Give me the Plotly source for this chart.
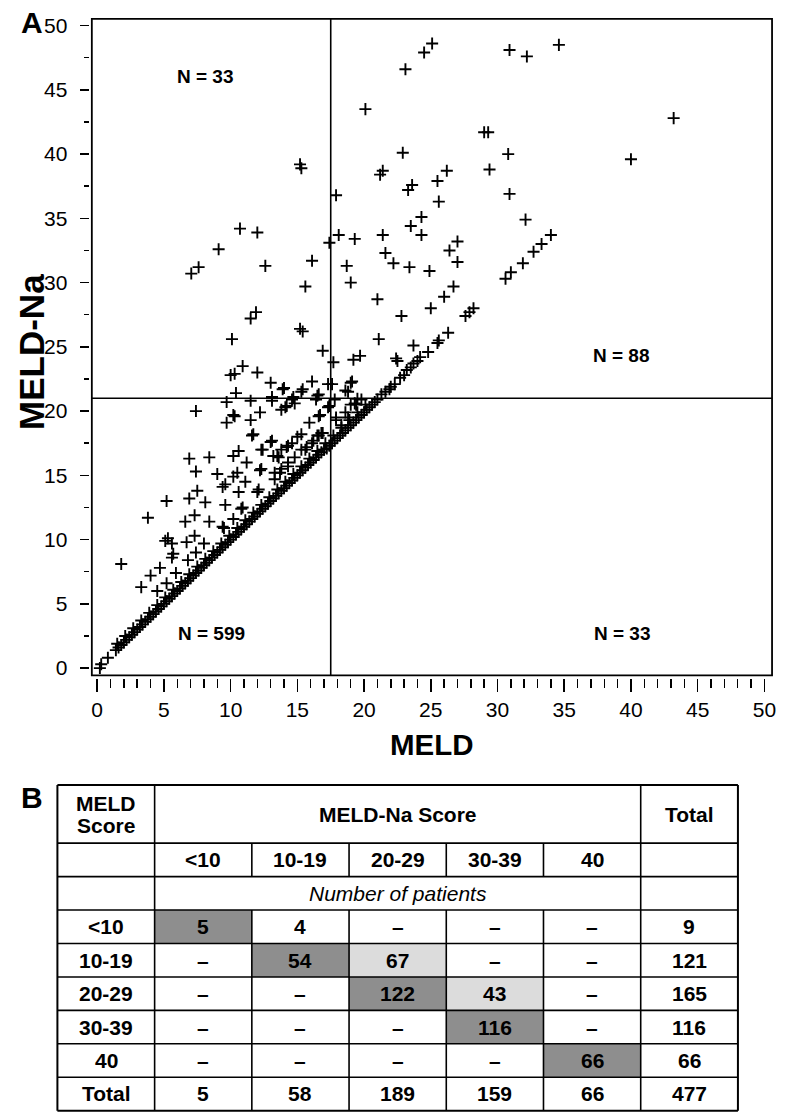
import plotly.graph_objects as go

# ------------------------------------------------------------------
# Panel A data: MELD (x) vs MELD-Na (y)
# ------------------------------------------------------------------
# main diagonal (MELD-Na equal to MELD)
diag_meld = [0.2, 0.3, 0.8, 1.4, 1.6, 1.8, 2.0, 2.2, 2.4, 2.6, 2.8, 3.0, 3.2, 3.4, 3.6, 3.8,
             4.0, 4.2, 4.4, 4.6, 4.8, 5.0, 5.2, 5.4, 5.6, 5.8, 6.0, 6.2, 6.4, 6.6, 6.8, 7.0,
             7.2, 7.4, 7.6, 7.8, 8.0, 8.2, 8.4, 8.6, 8.8, 9.0, 9.2, 9.4, 9.6, 9.8, 10.0, 10.2,
             10.4, 10.6, 10.8, 11.0, 11.2, 11.4, 11.6, 11.8, 12.0, 12.2, 12.4, 12.6, 12.8, 13.0,
             13.2, 13.4, 13.6, 13.8, 14.0, 14.2, 14.4, 14.6, 14.8, 15.0, 15.2, 15.4, 15.6, 15.8,
             16.0, 16.2, 16.4, 16.6, 16.8, 17.0, 17.2, 17.4, 17.6, 17.8, 18.0, 18.2, 18.4, 18.6,
             18.8, 19.0, 19.2, 19.4, 19.6, 19.8, 20.0, 20.2, 20.4, 20.6, 20.8, 21.0]
diag_na = [0.0, 0.3, 0.8, 1.4, 1.6, 1.8, 2.0, 2.2, 2.4, 2.6, 2.8, 3.0, 3.2, 3.4, 3.6, 3.8,
           4.0, 4.2, 4.4, 4.6, 4.8, 5.0, 5.2, 5.4, 5.6, 5.8, 6.0, 6.2, 6.4, 6.6, 6.8, 7.0,
           7.2, 7.4, 7.6, 7.8, 8.0, 8.2, 8.4, 8.6, 8.8, 9.0, 9.2, 9.4, 9.6, 9.8, 10.0, 10.2,
           10.4, 10.6, 10.8, 11.0, 11.2, 11.4, 11.6, 11.8, 12.0, 12.2, 12.4, 12.6, 12.8, 13.0,
           13.2, 13.4, 13.6, 13.8, 14.0, 14.2, 14.4, 14.6, 14.8, 15.0, 15.2, 15.4, 15.6, 15.8,
           16.0, 16.2, 16.4, 16.6, 16.8, 17.0, 17.1, 17.3, 17.5, 17.7, 17.9, 18.1, 18.3, 18.5,
           18.7, 18.9, 19.1, 19.3, 19.5, 19.7, 19.9, 20.1, 20.3, 20.5, 20.7, 20.9]

# second strip hugging the diagonal
diag2_meld = [1.5, 2.1, 2.7, 3.3, 3.9, 4.5, 5.1, 5.7, 6.3, 6.9, 7.5, 8.1, 8.7, 9.3, 9.9, 10.5,
              11.1, 11.7, 12.3, 12.9, 13.5, 14.1, 14.7, 15.3, 15.9, 16.5, 17.1, 17.7, 18.3,
              18.9, 19.5, 20.1]
diag2_na = [1.9, 2.5, 3.1, 3.7, 4.3, 4.9, 5.5, 6.1, 6.7, 7.3, 7.9, 8.5, 9.1, 9.7, 10.3, 10.9,
            11.5, 12.1, 12.7, 13.3, 13.9, 14.5, 15.1, 15.7, 16.3, 16.9, 17.5, 18.1, 18.7,
            19.3, 19.9, 20.5]

# lower-left quadrant, above the diagonal
band_meld = [1.8, 3.3, 4.0, 4.5, 4.7, 5.2, 5.9, 3.8, 5.2, 5.1, 5.3, 5.6, 5.7, 5.6, 6.8, 6.7,
             7.3, 6.6, 7.3, 6.9, 7.5, 6.9, 7.4, 7.4, 8.0, 8.1, 8.4, 8.4, 9.0, 9.4, 9.5, 9.6,
             10.2, 9.4, 9.6, 10.2, 10.5, 10.2, 10.6, 10.8, 10.9, 10.6, 11.1, 11.2, 12.0, 12.1,
             12.2, 12.3, 12.3, 12.4, 13.0, 13.3, 13.6, 13.7, 13.3, 13.8, 14.3, 14.8, 15.3,
             16.1, 16.6, 16.9, 14.3, 14.3, 14.2, 15.6, 13.2, 13.8, 14.6, 15.3, 15.0, 15.9,
             16.7, 16.5, 16.8, 15.7, 16.2, 13.1, 13.5, 11.6, 11.7, 9.7, 11.5, 12.2, 13.8,
             14.2, 14.1, 14.8, 16.6, 17.4, 17.3, 7.4, 10.2, 10.3, 9.7, 11.5, 13.1, 14.6, 16.4]
band_na = [8.1, 6.3, 7.2, 6.0, 7.8, 6.6, 7.4, 11.7, 13.0, 9.9, 10.1, 8.6, 8.9, 9.7, 8.4, 9.8,
           10.3, 11.4, 11.9, 13.2, 13.8, 16.3, 15.3, 9.0, 9.7, 12.9, 11.4, 16.4, 15.1, 11.0,
           10.9, 12.7, 11.6, 14.1, 14.3, 14.9, 15.2, 16.5, 16.9, 12.4, 12.5, 13.7, 14.5, 16.0,
           13.7, 13.9, 15.4, 15.5, 17.0, 17.0, 17.6, 14.7, 16.4, 15.2, 15.2, 15.5, 16.0, 16.4,
           17.0, 17.5, 18.1, 18.3, 15.7, 17.3, 17.2, 17.0, 16.5, 17.0, 17.5, 18.2, 18.0, 19.1,
           19.7, 18.1, 18.3, 17.2, 17.7, 17.7, 16.5, 18.1, 18.2, 19.1, 19.3, 19.9, 20.1, 20.4,
           20.3, 20.6, 19.6, 20.4, 20.3, 20.0, 19.7, 19.6, 20.7, 20.8, 20.8, 20.9, 20.9]

# upper-left quadrant
ul_meld = [7.05, 7.6, 9.1, 10.7, 12.0, 12.6, 16.1, 15.2, 15.3, 15.6, 11.5, 11.9, 15.2, 15.4,
           10.1, 16.9, 10.9, 10.0, 10.3, 12.0, 13.0, 13.9, 10.4, 15.3, 15.4, 16.1, 16.5, 14.0,
           16.6, 17.4, 17.3, 13.1, 14.7]
ul_na = [30.7, 31.2, 32.6, 34.2, 33.9, 31.3, 31.7, 39.2, 38.9, 29.7, 27.2, 27.7, 26.4, 26.2,
         25.6, 24.7, 23.5, 22.8, 22.9, 23.0, 22.2, 21.7, 21.4, 21.5, 21.7, 22.3, 21.2, 21.8,
         21.3, 33.1, 22.1, 21.1, 21.1]

# upper-right quadrant
ur_meld = [17.9, 18.1, 19.3, 20.1, 21.4, 21.2, 21.4, 21.6, 22.9, 23.1, 24.5, 25.1, 30.9, 32.2,
           34.6, 43.2, 40.0, 29.0, 29.3, 30.8, 26.2, 29.4, 25.5, 23.6, 23.3, 25.6, 30.9, 24.3,
           23.5, 24.3, 32.1, 34.0, 33.3, 32.7, 31.9, 31.0, 30.6, 27.0, 26.4, 18.7, 22.2, 23.4,
           24.9, 27.0, 19.0, 21.0, 26.7, 26.0, 25.0, 22.8, 28.2, 27.9, 27.6, 21.1, 26.3, 25.6,
           25.5, 23.7, 24.8, 24.2, 24.0, 23.7, 23.5, 23.2, 23.0, 22.7, 22.3, 22.0, 21.9, 22.4,
           22.5, 19.7, 19.2, 17.7, 19.1, 18.6, 17.6, 18.8, 19.0, 21.3, 21.6]
ur_na = [36.8, 33.7, 33.4, 43.5, 38.7, 38.4, 33.7, 32.3, 40.1, 46.6, 47.9, 48.6, 48.1, 47.6,
         48.5, 42.8, 39.6, 41.7, 41.7, 40.0, 38.7, 38.8, 37.9, 37.6, 37.2, 36.3, 36.9, 35.1,
         34.4, 33.7, 34.9, 33.7, 33.0, 32.4, 31.5, 30.8, 30.3, 33.2, 32.5, 31.3, 31.5, 31.2,
         30.9, 31.6, 30.0, 28.7, 29.7, 28.9, 28.0, 27.4, 28.0, 27.7, 27.4, 25.6, 26.1, 25.5,
         25.3, 25.1, 24.6, 24.2, 23.9, 23.7, 23.4, 23.2, 22.8, 22.6, 22.1, 21.9, 21.7, 24.1,
         23.9, 24.3, 24.0, 23.8, 22.3, 21.6, 22.1, 21.5, 22.2, 21.3, 21.5]

# lower-right quadrant (off the diagonal)
lr_meld = [19.5, 19.0, 17.8, 17.9, 18.6, 19.4, 19.8, 17.9, 19.3, 18.3, 18.8]
lr_na = [20.95, 20.5, 20.9, 19.3, 19.9, 20.5, 20.9, 19.5, 20.6, 18.9, 19.5]

meld_cut = 17.5
na_cut = 21
quadrant_text = ["N = 33", "N = 88", "N = 599", "N = 33"]
axis_ticks = [0, 5, 10, 15, 20, 25, 30, 35, 40, 45, 50]

# ------------------------------------------------------------------
# Panel B data: cross-tabulation
# ------------------------------------------------------------------
meld_row_labels = ["<10", "10-19", "20-29", "30-39", "40"]
na_col_labels = ["<10", "10-19", "20-29", "30-39", "40"]
counts = [[5, 4, None, None, None],
          [None, 54, 67, None, None],
          [None, None, 122, 43, None],
          [None, None, None, 116, None],
          [None, None, None, None, 66]]
row_totals = [9, 121, 165, 116, 66]
col_totals = [5, 58, 189, 159, 66]
grand_total = 477

# styling of table cells (row, col) in the counts grid
dark_cells = [(0, 0), (1, 1), (2, 2), (3, 3), (4, 4)]
light_cells = [(1, 2), (2, 3)]
DARK = "#8e8e8e"
LIGHT = "#dcdcdc"

# ------------------------------------------------------------------
W, H = 786, 1113
FONT = "Liberation Sans, Arial, Helvetica, sans-serif"

def pxx(p):
    return p / W

def pxy(p):
    return 1 - p / H

# Panel A calibration (pixels)
X0_PX, X_PER = 97.7, 13.412     # x=0 position, px per unit
Y0_PX, Y_PER = 666.7, 12.92     # y=0 position, px per unit
A_LEFT, A_RIGHT, A_TOP, A_BOT = 90.0, 776.0, 14.0, 676.7   # axis domain
F_LEFT, F_BOT = 92.3, 674.0                                 # frame

xr = [(A_LEFT - X0_PX) / X_PER, (A_RIGHT - X0_PX) / X_PER]
yr = [(Y0_PX - A_BOT) / Y_PER, (Y0_PX - A_TOP) / Y_PER]

fig = go.Figure()

meld_all = diag_meld + diag2_meld + band_meld + ul_meld + ur_meld + lr_meld
na_all = diag_na + diag2_na + band_na + ul_na + ur_na + lr_na
fig.add_trace(go.Scatter(
    x=meld_all, y=na_all, mode="markers", xaxis="x", yaxis="y",
    marker=dict(symbol="cross-thin-open", size=8.6, color="black",
                line=dict(width=1.9, color="black")),
    hoverinfo="skip", showlegend=False))

tickfont = dict(family=FONT, size=21, color="black")
fig.update_layout(
    width=W, height=H, margin=dict(l=0, r=0, t=0, b=0),
    paper_bgcolor="white", plot_bgcolor="white",
    xaxis=dict(domain=[pxx(A_LEFT), pxx(A_RIGHT)], range=xr, showgrid=False,
               zeroline=False, showline=False, tickmode="array", tickvals=axis_ticks,
               ticks="outside", ticklen=12.5, tickwidth=1.5, tickcolor="black",
               tickfont=tickfont, ticklabelstandoff=0,
               minor=dict(dtick=1, tick0=0, ticks="outside", ticklen=9, tickwidth=1.5,
                          tickcolor="black", showgrid=False),
               anchor="y", fixedrange=True),
    yaxis=dict(domain=[pxy(A_BOT), pxy(A_TOP)], range=yr, showgrid=False,
               zeroline=False, showline=False, tickmode="array", tickvals=axis_ticks,
               ticks="outside", ticklen=9, tickwidth=1.5, tickcolor="black",
               tickfont=tickfont, ticklabelstandoff=8,
               minor=dict(dtick=2.5, tick0=0, ticks="outside", ticklen=5, tickwidth=1.5,
                          tickcolor="black", showgrid=False),
               anchor="x", fixedrange=True),
)

shapes = []
# frame of panel A
shapes.append(dict(type="rect", xref="paper", yref="paper", x0=pxx(F_LEFT), x1=pxx(A_RIGHT),
                   y0=pxy(F_BOT), y1=pxy(A_TOP), line=dict(color="black", width=1.8)))
# quadrant lines
shapes.append(dict(type="line", xref="x", yref="paper", x0=meld_cut, x1=meld_cut,
                   y0=pxy(F_BOT), y1=pxy(A_TOP), line=dict(color="black", width=1.6)))
shapes.append(dict(type="line", xref="paper", yref="y", x0=pxx(F_LEFT), x1=pxx(A_RIGHT),
                   y0=na_cut, y1=na_cut, line=dict(color="black", width=1.6)))

annotations = []
# quadrant counts
q_pos = [(207.0, 71.7), (625.0, 352.7), (212.3, 632.0), (625.8, 632.0)]
for txt, (px, py) in zip(quadrant_text, q_pos):
    annotations.append(dict(x=(px - X0_PX) / X_PER, y=(Y0_PX - py) / Y_PER, xref="x", yref="y",
                            text=txt, showarrow=False, xanchor="center", yanchor="middle",
                            font=dict(family=FONT, size=19, color="black", weight="bold")))
# axis titles and panel letters
annotations.append(dict(x=pxx(434), y=pxy(744), xref="paper", yref="paper", text="MELD",
                        showarrow=False, xanchor="center", yanchor="middle",
                        font=dict(family=FONT, size=29.5, color="black", weight="bold")))
annotations.append(dict(x=pxx(31), y=pxy(349), xref="paper", yref="paper", text="MELD-Na",
                        showarrow=False, textangle=-90, xanchor="center", yanchor="middle",
                        font=dict(family=FONT, size=35, color="black", weight="bold")))
annotations.append(dict(x=pxx(32), y=pxy(18), xref="paper", yref="paper", text="A",
                        showarrow=False, xanchor="center", yanchor="middle",
                        font=dict(family=FONT, size=30, color="black", weight="bold")))
annotations.append(dict(x=pxx(32), y=pxy(797), xref="paper", yref="paper", text="B",
                        showarrow=False, xanchor="center", yanchor="middle",
                        font=dict(family=FONT, size=30, color="black", weight="bold")))

# ------------------------------------------------------------------
# Panel B: table drawn on its own axes (columns = units, rows = units)
# ------------------------------------------------------------------
T_LEFT, T_RIGHT, T_TOP, T_BOT = 57.7, 741.7, 784.3, 1111.7
N_COLS = 7
ROW_PX = 33.625
HDR = 58.4 / ROW_PX
N_ROWS = 2 + len(meld_row_labels) + 1   # col labels, "Number of", data rows, total
T_H = HDR + N_ROWS
COL_PX = (T_RIGHT - T_LEFT) / N_COLS
PAD_T, PAD_B, PAD_X = 2.0, 1.3, 2.0

fig.update_layout(
    xaxis2=dict(domain=[pxx(T_LEFT - PAD_X), pxx(T_RIGHT + PAD_X)],
                range=[-PAD_X / COL_PX, N_COLS + PAD_X / COL_PX], visible=False,
                anchor="y2", fixedrange=True),
    yaxis2=dict(domain=[max(0, pxy(T_BOT + PAD_B)), pxy(T_TOP - PAD_T)],
                range=[T_H + PAD_B / ROW_PX, -PAD_T / ROW_PX], visible=False,
                anchor="x2", fixedrange=True),
)

def row_top(r):
    # r = 0 -> column label row, following rows downward
    return HDR + r

# cell shading
for (ri, ci), col in [(c, DARK) for c in dark_cells] + [(c, LIGHT) for c in light_cells]:
    shapes.append(dict(type="rect", xref="x2", yref="y2", x0=ci + 1, x1=ci + 2,
                       y0=row_top(2 + ri), y1=row_top(3 + ri), fillcolor=col,
                       line=dict(width=0), layer="below"))

LW_IN, LW_OUT = 1.6, 2.0
# horizontal rules
for k in range(N_ROWS + 1):
    yv = row_top(k)
    shapes.append(dict(type="line", xref="x2", yref="y2", x0=0, x1=N_COLS, y0=yv, y1=yv,
                       line=dict(color="black", width=LW_OUT if k == N_ROWS else LW_IN)))
shapes.append(dict(type="line", xref="x2", yref="y2", x0=0, x1=N_COLS, y0=0, y1=0,
                   line=dict(color="black", width=LW_OUT)))
# full-height verticals
for xv in [0, 1, N_COLS - 1, N_COLS]:
    shapes.append(dict(type="line", xref="x2", yref="y2", x0=xv, x1=xv, y0=0, y1=T_H,
                       line=dict(color="black", width=LW_OUT if xv in (0, N_COLS) else LW_IN)))
# inner verticals (not across merged rows)
for xv in range(2, N_COLS - 1):
    for (a, b) in [(row_top(0), row_top(1)), (row_top(2), row_top(N_ROWS))]:
        shapes.append(dict(type="line", xref="x2", yref="y2", x0=xv, x1=xv, y0=a, y1=b,
                           line=dict(color="black", width=LW_IN)))

def cell_text(x, y, text, italic=False, bold=True):
    f = dict(family=FONT, size=21, color="black")
    if bold:
        f["weight"] = "bold"
    if italic:
        f["style"] = "italic"
    annotations.append(dict(x=x, y=y, xref="x2", yref="y2", text=text, showarrow=False,
                            xanchor="center", yanchor="middle", font=f))

hc = HDR / 2
cell_text(0.5, hc - 0.33, "MELD")
cell_text(0.5, hc + 0.33, "Score")
cell_text(3.5, hc, "MELD-Na Score")
cell_text(6.5, hc, "Total")
for j, lab in enumerate(na_col_labels):
    cell_text(j + 1.5, row_top(0) + 0.5, lab)
cell_text(3.5, row_top(1) + 0.5, "Number of patients", italic=True, bold=False)
for i, lab in enumerate(meld_row_labels):
    yc = row_top(2 + i) + 0.5
    cell_text(0.5, yc, lab)
    for j, v in enumerate(counts[i]):
        cell_text(j + 1.5, yc, "–" if v is None else str(v))
    cell_text(6.5, yc, str(row_totals[i]))
yc = row_top(2 + len(meld_row_labels)) + 0.5
cell_text(0.5, yc, "Total")
for j, v in enumerate(col_totals):
    cell_text(j + 1.5, yc, str(v))
cell_text(6.5, yc, str(grand_total))

fig.update_layout(shapes=shapes, annotations=annotations)

fig.write_html("out.html", config={"displayModeBar": False, "staticPlot": True},
               post_script="document.body.style.margin='0';document.body.style.overflow='hidden';")
